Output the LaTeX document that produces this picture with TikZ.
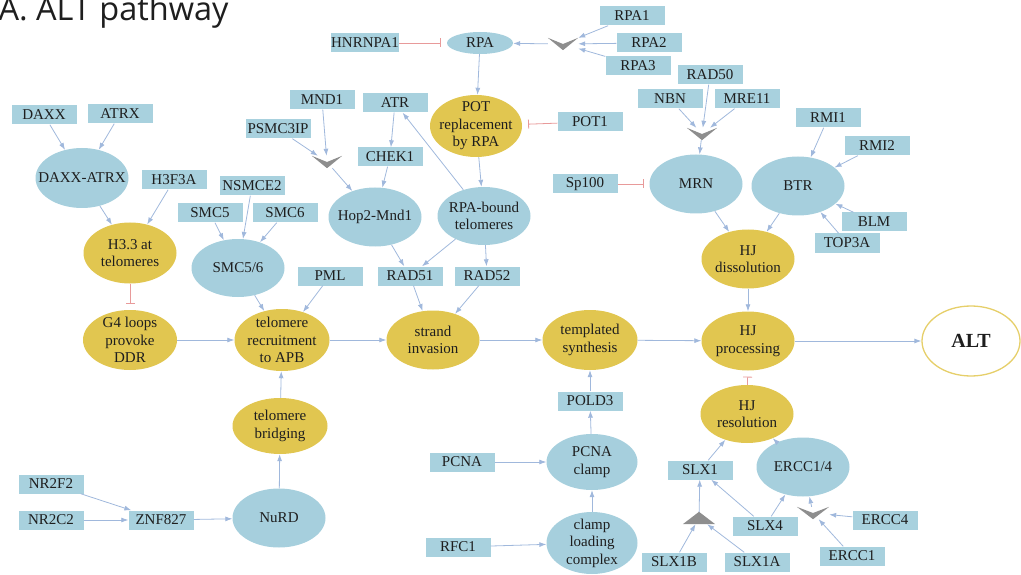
\documentclass[tikz,border=0pt]{standalone}
\usepackage{fontspec}
\setmainfont{Liberation Serif}
\newfontfamily\titlefont{Open Sans}
\usetikzlibrary{shapes.geometric,arrows.meta}
\definecolor{boxblue}{HTML}{A8D1DE}
\definecolor{ellblue}{HTML}{A6CFDD}
\definecolor{procyel}{HTML}{E1C650}
\definecolor{arrblue}{HTML}{A0B8DC}
\definecolor{inhred}{HTML}{E89A9A}
\definecolor{jgray}{HTML}{8E8E8E}
\definecolor{txtdark}{HTML}{1E1E1E}

\begin{document}
\begin{tikzpicture}[x=1pt,y=-1pt,>={Latex[length=7pt,width=5pt]},
  every node/.style={font=\fontsize{15}{17.5}\selectfont,text=txtdark,align=center},
  gene/.style={rectangle,fill=boxblue,minimum width=65pt,minimum height=19pt,inner sep=0pt},
  cplx/.style={ellipse,fill=ellblue,minimum width=93pt,minimum height=59pt,inner sep=-12pt},
  proc/.style={ellipse,fill=procyel,minimum width=93pt,minimum height=59pt,inner sep=-12pt},
  junc/.style={rectangle,minimum width=30pt,minimum height=12pt,inner sep=0pt},
  act/.style={->,draw=arrblue,line width=0.8pt},
  inh/.style={-{Bar[width=9pt]},draw=inhred,line width=0.8pt,shorten >=6pt}]
\useasboundingbox (0,0) rectangle (1021,575);
\node[anchor=base west,font=\titlefont\fontsize{32.5}{34}\selectfont] (title) at (-5,21) {A. ALT pathway};

% top: RPA and POT
\node[gene] (hnrnpa1) at (365,43) {HNRNPA1};
\node[ellipse,fill=ellblue,minimum width=66pt,minimum height=22pt,inner sep=-6pt] (rpa) at (480,43) {RPA};
\node[junc] (vrpa) at (563,44) {};
\node[gene] (rpaone) at (632,16) {RPA1};
\node[gene] (rpatwo) at (649,43) {RPA2};
\node[gene] (rpathree) at (638,66) {RPA3};
\node[proc,minimum width=92pt,minimum height=62pt] (pot) at (476,126) {POT\\replacement\\by RPA};
\node[gene] (pot1) at (590,122) {POT1};

% left branch
\node[gene] (daxx) at (44,115) {DAXX};
\node[gene] (atrx) at (120,114) {ATRX};
\node[cplx,minimum height=60pt] (daxxatrx) at (82,178) {DAXX-ATRX};
\node[gene] (h3f3a) at (174,180) {H3F3A};
\node[proc,minimum height=61pt] (h33) at (130,253) {H3.3 at\\telomeres};
\node[proc,minimum width=94pt,minimum height=60pt] (g4) at (130,340) {G4 loops\\provoke\\DDR};
\node[gene] (nsmce2) at (252,186) {NSMCE2};
\node[gene] (smc5) at (210,213) {SMC5};
\node[gene] (smc6) at (285,213) {SMC6};
\node[cplx,minimum height=58pt] (smc56) at (238,268) {SMC5/6};
\node[gene] (pml) at (330,276) {PML};
\node[proc,minimum width=95pt,minimum height=62pt] (telrec) at (282,340) {telomere\\recruitment\\to APB};
\node[proc,minimum width=95pt,minimum height=56pt] (telbr) at (280,426) {telomere\\bridging};
\node[cplx] (nurd) at (279,518) {NuRD};
\node[gene] (nr2f2) at (51,484) {NR2F2};
\node[gene] (nr2c2) at (51,520) {NR2C2};
\node[gene] (znf827) at (161,520) {ZNF827};

% Hop2-Mnd1 and RPA-bound telomeres
\node[gene] (mnd1) at (322,100) {MND1};
\node[gene] (atr) at (395,103) {ATR};
\node[gene] (psmc3ip) at (278,129) {PSMC3IP};
\node[junc] (vhop) at (327,162) {};
\node[gene] (chek1) at (390,157) {CHEK1};
\node[cplx] (hop2) at (375,217) {Hop2-Mnd1};
\node[cplx,minimum height=58pt] (rpabound) at (484,216) {RPA-bound\\telomeres};
\node[gene] (rad51) at (410,276) {RAD51};
\node[gene] (rad52) at (487,276) {RAD52};

% main row
\node[proc] (strand) at (433,340) {strand\\invasion};
\node[proc,minimum width=95pt,minimum height=60pt] (templ) at (590,340) {templated\\synthesis};
\node[proc] (hjproc) at (748,341) {HJ\\processing};
\node[ellipse,draw=procyel!85!white,line width=1.3pt,fill=white,minimum width=98pt,minimum height=70pt,inner sep=-6pt,font=\bfseries\fontsize{20}{22}\selectfont] (alt) at (971,341) {ALT};

% MRN and BTR
\node[gene] (rad50) at (710,75) {RAD50};
\node[gene] (nbn) at (670,99) {NBN};
\node[gene] (mre11) at (747,99) {MRE11};
\node[junc] (vmrn) at (702,134) {};
\node[gene] (sp100) at (585,184) {Sp100};
\node[cplx] (mrn) at (696,184) {MRN};
\node[cplx] (btr) at (798,186) {BTR};
\node[gene] (rmi1) at (828,118) {RMI1};
\node[gene] (rmi2) at (877,146) {RMI2};
\node[gene] (blm) at (874,222) {BLM};
\node[gene] (top3a) at (847,243) {TOP3A};
\node[proc] (hjdis) at (748,259) {HJ\\dissolution};

% bottom: PCNA and resolution
\node[gene] (pold3) at (590,401) {POLD3};
\node[cplx,minimum width=91pt,minimum height=56pt] (pcnaclamp) at (592,462) {PCNA\\clamp};
\node[cplx,minimum width=91pt,minimum height=62pt] (clamploading) at (592,543) {clamp\\loading\\complex};
\node[gene] (pcna) at (462,462) {PCNA};
\node[gene] (rfc1) at (458,547) {RFC1};
\node[proc,minimum height=58pt] (hjres) at (747,414) {HJ\\resolution};
\node[gene] (slx1) at (700,470) {SLX1};
\node[junc,minimum width=32pt] (tri) at (699,518) {};
\node[gene] (slx1b) at (674,562) {SLX1B};
\node[gene] (slx1a) at (757,562) {SLX1A};
\node[gene] (slx4) at (765,526) {SLX4};
\node[cplx] (ercc14) at (803,467) {ERCC1/4};
\node[junc,minimum width=32pt] (vercc) at (813,513) {};
\node[gene] (ercc4) at (885,520) {ERCC4};
\node[gene] (ercc1) at (852,556) {ERCC1};

% junction marks
\foreach \j in {vrpa,vhop,vmrn,vercc}
  \fill[jgray] (\j.north west) -- (\j.center) -- (\j.north east) -- (\j.south) -- cycle;
\fill[jgray] (tri.south west) -- (tri.north) -- (tri.south east) -- cycle;

% connectors
\draw[inh] (hnrnpa1) -- (rpa);
\draw[act] (rpaone) -- (vrpa);
\draw[act] (rpatwo) -- (vrpa);
\draw[act] (rpathree) -- (vrpa);
\draw[act] (vrpa) -- (rpa);
\draw[act] (rpa) -- (pot);
\draw[inh] (pot1) -- (pot);
\draw[act] (pot) -- (rpabound);

\draw[act] (daxx) -- (daxxatrx);
\draw[act] (atrx) -- (daxxatrx);
\draw[act] (daxxatrx) -- (h33);
\draw[act] (h3f3a) -- (h33);
\draw[inh] (h33) -- (g4);
\draw[act] (smc5) -- (smc56);
\draw[act] (nsmce2) -- (smc56);
\draw[act] (smc6) -- (smc56);
\draw[act] (smc56) -- (telrec);
\draw[act] (pml) -- (telrec);
\draw[act] (telbr) -- (telrec);
\draw[act] (nurd) -- (telbr);
\draw[act] (znf827) -- (nurd);
\draw[act] (nr2f2) -- (znf827);
\draw[act] (nr2c2) -- (znf827);

\draw[act] (mnd1) -- (vhop);
\draw[act] (psmc3ip) -- (vhop);
\draw[act] (vhop) -- (hop2);
\draw[act] (atr) -- (chek1);
\draw[act] (chek1) -- (hop2);
\draw[act] (rpabound) -- (atr);
\draw[act] (hop2) -- (rad51);
\draw[act] (rpabound) -- (rad51);
\draw[act] (rpabound) -- (rad52);
\draw[act] (rad51) -- (strand);
\draw[act] (rad52) -- (strand);

\draw[act] (g4) -- (telrec);
\draw[act] (telrec) -- (strand);
\draw[act] (strand) -- (templ);
\draw[act] (templ) -- (hjproc);
\draw[act] (hjproc) -- (alt);

\draw[act] (nbn) -- (vmrn);
\draw[act] (rad50) -- (vmrn);
\draw[act] (mre11) -- (vmrn);
\draw[act] (vmrn) -- (mrn);
\draw[inh] (sp100) -- (mrn);
\draw[act] (rmi1) -- (btr);
\draw[act] (rmi2) -- (btr);
\draw[act] (blm) -- (btr);
\draw[act] (top3a) -- (btr);
\draw[act] (mrn) -- (hjdis);
\draw[act] (btr) -- (hjdis);
\draw[act] (hjdis) -- (hjproc);
\draw[inh] (hjres) -- (hjproc);

\draw[act] (pold3) -- (templ);
\draw[act] (pcnaclamp) -- (pold3);
\draw[act] (clamploading) -- (pcnaclamp);
\draw[act] (pcna) -- (pcnaclamp);
\draw[act] (rfc1) -- (clamploading);

\draw[act] (slx1) -- (hjres);
\draw[act] (tri) -- (slx1);
\draw[act] (slx1b) -- (tri);
\draw[act] (slx1a) -- (tri);
\draw[act] (slx4) -- (slx1);
\draw[act] (slx4) -- (ercc14);
\draw[act] (vercc) -- (ercc14);
\draw[act] (ercc4) -- (vercc);
\draw[act] (ercc1) -- (vercc);
\draw[act] (ercc14) -- (hjres);
\end{tikzpicture}
\end{document}
